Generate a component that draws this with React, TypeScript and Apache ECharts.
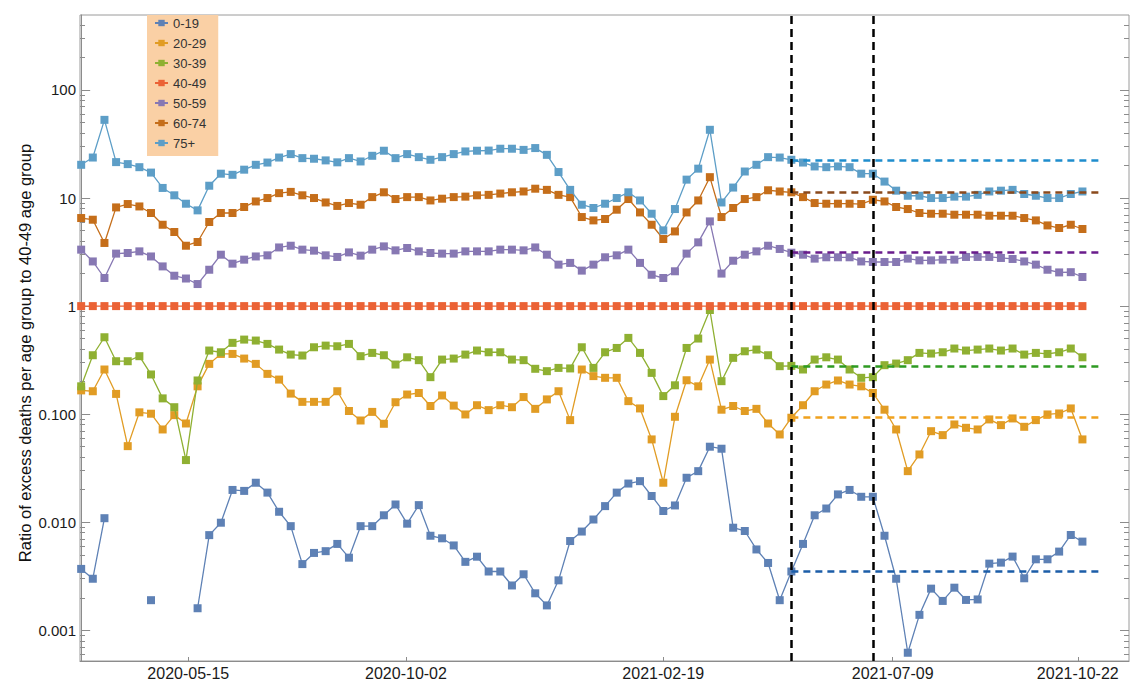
import React, { useEffect, useRef } from 'react';
import * as echarts from 'echarts';

// Weekly ratio of excess deaths in each age group to the 40-49 group.
// x = week index (0 … 86), y = ratio (log scale). null = no value that week.
const ageGroups = ['0-19', '20-29', '30-39', '40-49', '50-59', '60-74', '75+'];

const age0to19 = [
  0.0037, 0.003, 0.0109, null, null, null, 0.0019, null, null, null,
  0.0016, 0.0076, 0.0099, 0.0199, 0.0195, 0.0232, 0.0188, 0.0125, 0.0092, 0.0041,
  0.0052, 0.0054, 0.0063, 0.0047, 0.0092, 0.0092, 0.0116, 0.0146, 0.0097, 0.0144,
  0.0075, 0.0071, 0.0061, 0.0043, 0.0048, 0.0035, 0.0035, 0.0026, 0.0033, 0.0022,
  0.0017, 0.0029, 0.0067, 0.0082, 0.0106, 0.0141, 0.0188, 0.0228, 0.024, 0.0175,
  0.0127, 0.0143, 0.0258, 0.0297, 0.05, 0.0479, 0.0089, 0.0083, 0.0056, 0.0042,
  0.0019, 0.0035, 0.0063, 0.0116, 0.0134, 0.0181, 0.0199, 0.0172, 0.0172, 0.0075,
  0.003, 0.00062, 0.00139, 0.00243, 0.00187, 0.00248, 0.00191, 0.00193, 0.00414, 0.00423,
  0.00481, 0.00303, 0.00454, 0.00454, 0.00535, 0.00762, 0.00662,
];

const age20to29 = [
  0.166, 0.163, 0.259, 0.154, 0.0506, 0.104, 0.101, 0.0722, 0.098, 0.082,
  0.181, 0.292, 0.361, 0.361, 0.327, 0.292, 0.236, 0.209, 0.155, 0.13,
  0.13, 0.13, 0.163, 0.107, 0.0874, 0.105, 0.0815, 0.129, 0.152, 0.157,
  0.119, 0.149, 0.12, 0.0994, 0.121, 0.109, 0.121, 0.116, 0.144, 0.112,
  0.137, 0.163, 0.0881, 0.259, 0.225, 0.217, 0.217, 0.132, 0.113, 0.0584,
  0.0232, 0.0946, 0.206, 0.181, 0.32, 0.11, 0.119, 0.107, 0.112, 0.082,
  0.0649, 0.0927, 0.121, 0.163, 0.188, 0.205, 0.188, 0.181, 0.157, 0.11,
  0.0722, 0.0297, 0.0424, 0.0696, 0.064, 0.0803, 0.0748, 0.0722, 0.0894, 0.0792,
  0.0913, 0.0764, 0.0881, 0.0994, 0.1015, 0.113, 0.0584,
];

const age30to39 = [
  0.181, 0.351, 0.515, 0.309, 0.309, 0.344, 0.233, 0.14, 0.116, 0.0376,
  0.205, 0.388, 0.374, 0.457, 0.49, 0.48, 0.447, 0.396, 0.356, 0.349,
  0.416, 0.431, 0.425, 0.447, 0.344, 0.369, 0.351, 0.288, 0.336, 0.316,
  0.22, 0.32, 0.327, 0.356, 0.388, 0.374, 0.374, 0.32, 0.316, 0.263,
  0.25, 0.268, 0.265, 0.416, 0.268, 0.374, 0.41, 0.508, 0.369, 0.241,
  0.147, 0.185, 0.41, 0.501, 0.92, 0.202, 0.332, 0.382, 0.396, 0.351,
  0.278, 0.28, 0.259, 0.32, 0.336, 0.32, 0.259, 0.217, 0.22, 0.284,
  0.294, 0.316, 0.369, 0.364, 0.374, 0.405, 0.388, 0.396, 0.405, 0.388,
  0.405, 0.356, 0.369, 0.361, 0.374, 0.405, 0.336,
];

const age40to49 = new Array(87).fill(1);

const age50to59 = [
  3.33, 2.59, 1.82, 3.06, 3.1, 3.21, 2.88, 2.33, 1.91, 1.8,
  1.6, 2.17, 2.99, 2.47, 2.69, 2.88, 2.95, 3.49, 3.62, 3.33,
  3.26, 2.95, 2.85, 3.14, 2.93, 3.33, 3.57, 3.28, 3.45, 3.21,
  3.1, 3.06, 3.06, 3.21, 3.21, 3.21, 3.33, 3.33, 3.28, 3.49,
  2.99, 2.42, 2.51, 2.13, 2.42, 2.83, 2.95, 3.33, 2.51, 1.95,
  1.82, 2.1, 3.06, 3.89, 6.08, 2.0, 2.63, 2.99, 3.21, 3.62,
  3.38, 3.12, 2.99, 2.75, 2.83, 2.83, 2.83, 2.59, 2.56, 2.56,
  2.56, 2.75, 2.65, 2.65, 2.69, 2.69, 2.85, 2.85, 2.85, 2.79,
  2.73, 2.59, 2.42, 2.17, 2.05, 2.06, 1.86,
];

const age60to74 = [
  6.53, 6.3, 3.84, 8.19, 8.8, 8.36, 7.27, 5.66, 4.85, 3.62,
  3.92, 6.0, 7.27, 7.27, 8.26, 9.3, 10.0, 11.1, 11.4, 10.6,
  10.0, 9.1, 8.45, 8.99, 8.67, 10.2, 11.3, 9.79, 10.2, 10.2,
  9.5, 9.86, 10.2, 10.3, 10.6, 10.7, 11.0, 11.3, 11.5, 12.2,
  11.9, 10.7, 10.2, 6.67, 6.21, 6.4, 7.8, 9.79, 7.36, 5.66,
  4.18, 4.91, 7.36, 9.5, 15.6, 6.67, 8.09, 9.79, 10.2, 11.8,
  11.5, 11.3, 10.2, 8.99, 8.86, 8.86, 8.86, 8.8, 9.64, 9.3,
  8.26, 7.91, 7.27, 7.16, 7.16, 7.01, 7.01, 7.01, 6.86, 6.86,
  6.86, 6.53, 6.21, 5.58, 5.28, 5.66, 5.17,
];

const age75plus = [
  20.3, 23.7, 52.9, 21.5, 20.6, 19.3, 17.2, 12.4, 10.6, 8.86,
  7.69, 13.0, 16.8, 16.4, 18.3, 20.3, 21.3, 23.7, 25.5, 23.4,
  23.1, 22.3, 21.4, 23.4, 21.8, 24.6, 27.4, 23.4, 25.5, 23.9,
  22.6, 23.9, 25.5, 27.0, 27.4, 27.5, 28.6, 28.6, 27.9, 29.0,
  25.1, 17.4, 11.9, 8.67, 8.09, 8.86, 10.0, 11.3, 9.5, 7.16,
  5.02, 7.91, 14.8, 18.7, 42.8, 9.1, 12.5, 17.6, 20.3, 23.9,
  23.7, 22.6, 21.3, 19.6, 19.3, 19.6, 19.3, 16.8, 16.8, 14.2,
  11.7, 10.5, 10.5, 10.0, 10.0, 10.3, 10.3, 10.7, 11.5, 11.7,
  11.9, 10.9, 10.5, 10.0, 10.0, 10.9, 11.5,
];

// Date ticks on the week-index axis
const xTickWeeks = [9.2, 27.9, 50.0, 69.7, 85.6];
const xTickLabels = ['2020-05-15', '2020-10-02', '2021-02-19', '2021-07-09', '2021-10-22'];

// Log-axis ticks
const yTickValues = [0.001, 0.01, 0.1, 1, 10, 100];
const yTickLabels = ['0.001', '0.010', '0.100', '1', '10', '100'];

// Comparison window: levels at the first week are carried forward as references
const windowStartWeek = 61;
const windowEndWeek = 68;
const referenceEndWeek = 87.5;

const seriesValues = [age0to19, age20to29, age30to39, age40to49, age50to59, age60to74, age75plus];

const lineColors = ['#5E81B5', '#E19C24', '#8FB032', '#EB6235', '#8778B3', '#C56E1A', '#5D9EC7'];
const referenceColors = ['#1C5DA8', '#F0A11E', '#2E9A22', '', '#6A1C8C', '#8A4A1C', '#1F8DCD'];

const FONT = '"Liberation Sans", Arial, Helvetica, sans-serif';
const AXIS_GREY = '#8c8c8c';

const Y_MIN = 0.00052;
const Y_MAX = 494;

function minorLogTicks(): number[] {
  const out: number[] = [];
  for (let e = -4; e <= 2; e++) {
    for (let m = 2; m <= 9; m++) {
      const v = m * Math.pow(10, e);
      if (v > Y_MIN && v < Y_MAX) out.push(Number(v.toPrecision(3)));
    }
  }
  return out;
}

function buildOption(): echarts.EChartsCoreOption {
  const minorTicks = minorLogTicks();

  const logAxis = (position: 'left' | 'right', major: boolean, showLabels: boolean, showLine: boolean) => ({
    type: 'log',
    logBase: 10,
    min: Y_MIN,
    max: Y_MAX,
    position,
    axisLine: { show: showLine, lineStyle: { color: AXIS_GREY, width: 1 } },
    axisTick: {
      show: true,
      inside: true,
      length: major ? 9 : 5,
      customValues: major ? yTickValues : minorTicks,
      lineStyle: { color: AXIS_GREY, width: 1 },
    },
    axisLabel: showLabels
      ? {
          show: true,
          customValues: yTickValues,
          margin: 4,
          fontSize: 15,
          fontFamily: FONT,
          color: '#1a1a1a',
          formatter: (v: number) => {
            const j = yTickValues.findIndex((t) => Math.abs(Math.log10(t) - Math.log10(v)) < 1e-6);
            return j >= 0 ? yTickLabels[j] : '';
          },
        }
      : { show: false },
    splitLine: { show: false },
    minorTick: { show: false },
  });

  const series = ageGroups.map((name, k) => {
    const color = lineColors[k];
    const values = seriesValues[k];
    const markData: any[] = [];
    if (referenceColors[k]) {
      const level = values[windowStartWeek] as number;
      markData.push([
        { coord: [windowStartWeek, level], lineStyle: { color: referenceColors[k], type: [7, 5], width: 2.5 } },
        { coord: [referenceEndWeek, level] },
      ]);
    }
    if (k === ageGroups.length - 1) {
      for (const w of [windowStartWeek, windowEndWeek]) {
        markData.push({ xAxis: w, lineStyle: { color: '#000', type: [8, 5], width: 2.5 } });
      }
    }
    return {
      type: 'line',
      name,
      xAxisIndex: 0,
      yAxisIndex: 0,
      data: values.map((v, i) => [i, v == null ? '-' : v]),
      symbol: 'rect',
      symbolSize: 8,
      showSymbol: true,
      connectNulls: false,
      lineStyle: { color, width: 1.3 },
      itemStyle: { color },
      z: 2 + k,
      markLine: markData.length
        ? {
            silent: true,
            symbol: ['none', 'none'],
            label: { show: false },
            z: 20,
            data: markData,
          }
        : undefined,
    };
  });

  return {
    animation: false,
    backgroundColor: '#ffffff',
    grid: {
      left: 80,
      right: 1,
      top: 15,
      bottom: 19,
      show: true,
      borderColor: '#9a9a9a',
      borderWidth: 1,
      backgroundColor: 'transparent',
    },
    legend: {
      orient: 'vertical',
      left: 147,
      top: 15,
      padding: [1, 12, 6, 7],
      itemWidth: 13,
      itemHeight: 8,
      itemGap: 6,
      backgroundColor: '#FAD0A5',
      data: ageGroups,
      textStyle: { fontSize: 13, lineHeight: 14, color: '#333', fontFamily: FONT },
    },
    xAxis: {
      type: 'value',
      min: -0.1,
      max: 90,
      position: 'bottom',
      axisLine: { show: true, lineStyle: { color: AXIS_GREY, width: 1 } },
      axisTick: {
        show: true,
        inside: true,
        length: 4,
        customValues: xTickWeeks,
        lineStyle: { color: AXIS_GREY },
      },
      axisLabel: {
        customValues: xTickWeeks,
        margin: 4,
        fontSize: 16,
        fontFamily: FONT,
        color: '#1a1a1a',
        formatter: (v: number) => {
          const j = xTickWeeks.findIndex((t) => Math.abs(t - v) < 1e-6);
          return j >= 0 ? xTickLabels[j] : '';
        },
      },
      splitLine: { show: false },
    },
    yAxis: [
      logAxis('left', true, true, true),
      logAxis('left', false, false, false),
      logAxis('right', true, false, false),
      logAxis('right', false, false, false),
    ],
    graphic: [
      {
        type: 'text',
        x: 25,
        y: 353,
        rotation: Math.PI / 2,
        style: {
          text: 'Ratio of excess deaths per age group to 40-49 age group',
          fontSize: 16.5,
          fontFamily: FONT,
          fill: '#111',
          align: 'center',
          verticalAlign: 'middle',
        },
      },
    ],
    series,
  };
}

export default function App() {
  const ref = useRef<HTMLDivElement>(null);

  useEffect(() => {
    document.body.style.margin = '0';
    if (!ref.current) return;
    const chart = echarts.init(ref.current, undefined, { renderer: 'svg' });
    chart.setOption(buildOption());
    return () => chart.dispose();
  }, []);

  return <div ref={ref} style={{ width: 1130, height: 681 }} />;
}
